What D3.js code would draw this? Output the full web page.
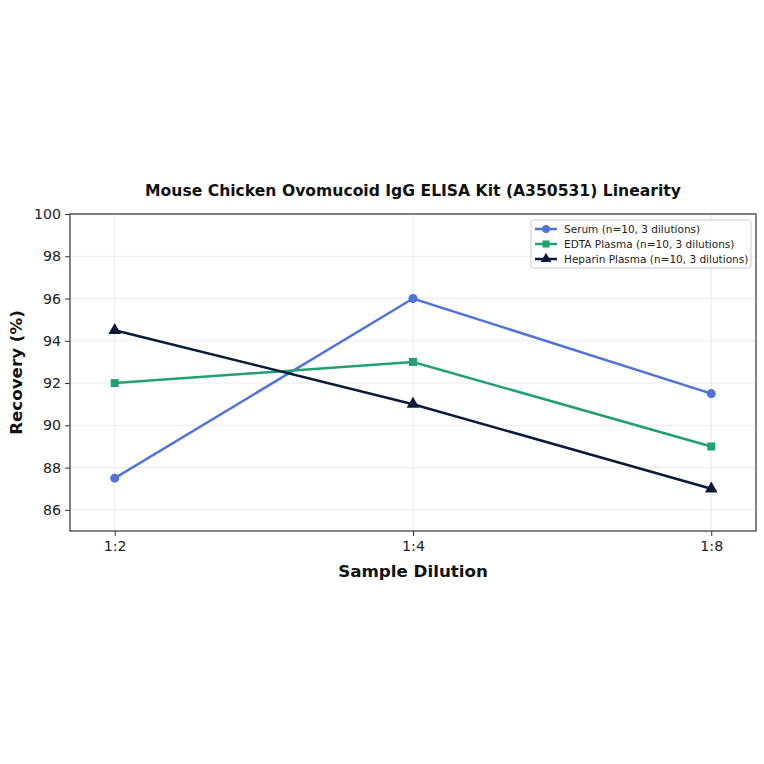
<!DOCTYPE html>
<html><head><meta charset="utf-8">
<script src="https://cdn.jsdelivr.net/npm/d3@7"></script>
<style>body{margin:0;background:#fff;} svg{display:block;font-family:"DejaVu Sans",sans-serif;}</style>
</head><body><svg id="c" width="764" height="764"></svg>
<script>
const categories = ["1:2", "1:4", "1:8"];
const serum = [87.5, 96.0, 91.5];
const edta = [92.0, 93.0, 89.0];
const heparin = [94.5, 91.0, 87.0];
const seriesNames = ["Serum (n=10, 3 dilutions)", "EDTA Plasma (n=10, 3 dilutions)", "Heparin Plasma (n=10, 3 dilutions)"];
const yTicks = [86, 88, 90, 92, 94, 96, 98, 100];
const colors = ["#4f73d9", "#22a070", "#0b1a3a"];
const shapes = [d3.symbolCircle, d3.symbolSquare, d3.symbolTriangle];

const svg = d3.select("#c");
const L = 70, R = 756, T = 214, B = 531;
const x = d3.scaleLinear().domain([-0.15, 2.15]).range([L, R]);
const y = d3.scaleLinear().domain([85, 100]).range([B, T]);

// grid
const g = svg.append("g");
g.selectAll(".gy").data(yTicks).join("line")
  .attr("x1", L).attr("x2", R).attr("y1", d => y(d)).attr("y2", d => y(d))
  .attr("stroke", "#e6e6e6").attr("stroke-width", 0.8);
g.selectAll(".gx").data(categories).join("line")
  .attr("x1", (d, i) => x(i)).attr("x2", (d, i) => x(i)).attr("y1", T).attr("y2", B)
  .attr("stroke", "#e6e6e6").attr("stroke-width", 0.8);

// axes
const xAxis = d3.axisBottom(x).tickValues([0, 1, 2]).tickFormat(i => categories[i]).tickSize(5).tickPadding(5);
const yAxis = d3.axisLeft(y).tickValues(yTicks).tickSize(5).tickPadding(4);
const ax = svg.append("g").attr("transform", `translate(0,${B})`).call(xAxis);
const ay = svg.append("g").attr("transform", `translate(${L},0)`).call(yAxis);
[ax, ay].forEach(a => {
  a.select(".domain").remove();
  a.selectAll("text").attr("font-size", 14.2).attr("fill", "#222").attr("font-family", "DejaVu Sans");
  a.selectAll("line").attr("stroke", "#333");
});
svg.append("rect").attr("x", L).attr("y", T).attr("width", R - L).attr("height", B - T)
  .attr("fill", "none").attr("stroke", "#333").attr("stroke-width", 1.2);

// series
const data = [serum, edta, heparin];
const line = d3.line().x((d, i) => x(i)).y(d => y(d));
data.forEach((s, k) => {
  svg.append("path").attr("d", line(s)).attr("fill", "none").attr("stroke", colors[k]).attr("stroke-width", 2.5);
  svg.selectAll(null).data(s).join("path")
    .attr("transform", (d, i) => `translate(${x(i)},${y(d)})`)
    .attr("d", d3.symbol().type(shapes[k]).size(k === 2 ? 70 : 64))
    .attr("fill", colors[k]);
});

// title and labels
svg.append("text").attr("x", (L + R) / 2).attr("y", 196).attr("text-anchor", "middle")
  .attr("font-size", 15.6).attr("font-weight", "bold").attr("fill", "#111")
  .text("Mouse Chicken Ovomucoid IgG ELISA Kit (A350531) Linearity");
svg.append("text").attr("x", (L + R) / 2).attr("y", 577).attr("text-anchor", "middle")
  .attr("font-size", 16.7).attr("font-weight", "bold").attr("fill", "#111").text("Sample Dilution");
svg.append("text").attr("transform", `translate(22,${(T + B) / 2}) rotate(-90)`).attr("text-anchor", "middle")
  .attr("font-size", 16.7).attr("font-weight", "bold").attr("fill", "#111").text("Recovery (%)");

// legend
const lg = svg.append("g");
lg.append("rect").attr("x", 531).attr("y", 220).attr("width", 220).attr("height", 48).attr("rx", 2)
  .attr("fill", "#fff").attr("fill-opacity", 0.85).attr("stroke", "#ccc");
seriesNames.forEach((n, k) => {
  const yy = 229 + k * 15;
  lg.append("line").attr("x1", 535).attr("x2", 557).attr("y1", yy).attr("y2", yy).attr("stroke", colors[k]).attr("stroke-width", 2.5);
  lg.append("path").attr("transform", `translate(546,${yy})`).attr("d", d3.symbol().type(shapes[k]).size(50)).attr("fill", colors[k]);
  lg.append("text").attr("x", 564).attr("y", yy + 4).attr("font-size", 10.5).attr("fill", "#222").text(n);
});
</script></body></html>
